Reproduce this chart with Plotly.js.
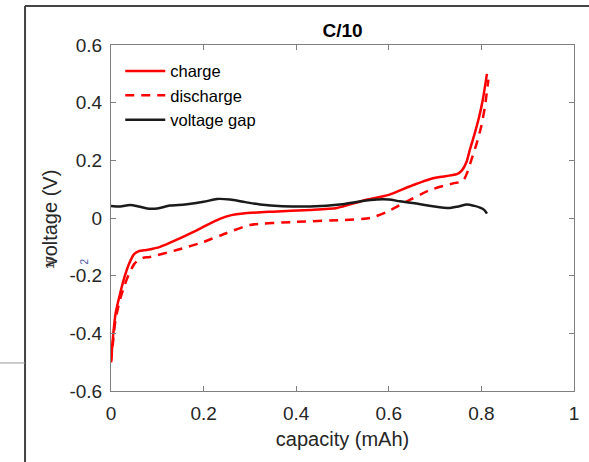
<!DOCTYPE html>
<html>
<head>
<meta charset="utf-8">
<script src="https://cdn.plot.ly/plotly-3.0.1.min.js"></script>
<style>html,body{margin:0;padding:0;background:#fff;}#chart{width:589px;height:462px;}</style>
</head>
<body>
<div id="chart"></div>
<script>
// Charge curve (solid red)
const chargeCap = [0, 0.005, 0.01, 0.02, 0.03, 0.04, 0.05, 0.06, 0.08, 0.106, 0.14, 0.177, 0.21, 0.235, 0.26, 0.285, 0.35, 0.43, 0.488, 0.544, 0.6, 0.646, 0.695, 0.747, 0.758, 0.768, 0.775, 0.785, 0.795, 0.803, 0.812];
const chargeV   = [-0.5, -0.4, -0.33, -0.26, -0.2, -0.155, -0.125, -0.115, -0.11, -0.1, -0.077, -0.049, -0.022, -0.003, 0.01, 0.016, 0.022, 0.028, 0.035, 0.06, 0.08, 0.11, 0.138, 0.152, 0.165, 0.195, 0.236, 0.29, 0.35, 0.41, 0.5];
// Discharge curve (dashed red)
const dischargeCap = [0, 0.005, 0.01, 0.02, 0.03, 0.04, 0.05, 0.06, 0.07, 0.084, 0.142, 0.2, 0.25, 0.3, 0.393, 0.5, 0.56, 0.596, 0.63, 0.689, 0.739, 0.76, 0.769, 0.778, 0.79, 0.8, 0.808, 0.815];
const dischargeV   = [-0.5, -0.42, -0.35, -0.28, -0.23, -0.19, -0.16, -0.145, -0.138, -0.135, -0.111, -0.083, -0.052, -0.024, -0.014, -0.007, 0.0, 0.021, 0.05, 0.097, 0.12, 0.128, 0.156, 0.2, 0.26, 0.32, 0.39, 0.48];
// Voltage gap (black)
const gapCap = [0, 0.02, 0.041, 0.06, 0.078, 0.1, 0.127, 0.16, 0.2, 0.229, 0.257, 0.29, 0.322, 0.37, 0.43, 0.5, 0.54, 0.574, 0.6, 0.624, 0.66, 0.695, 0.732, 0.75, 0.769, 0.785, 0.797, 0.806, 0.812];
const gapV   = [0.042, 0.04, 0.045, 0.04, 0.033, 0.033, 0.043, 0.047, 0.056, 0.066, 0.064, 0.055, 0.047, 0.041, 0.04, 0.048, 0.058, 0.064, 0.064, 0.058, 0.05, 0.041, 0.035, 0.04, 0.047, 0.042, 0.036, 0.028, 0.015];

const xTicks = [0, 0.2, 0.4, 0.6, 0.8, 1];
const xTickText = ['0', '0.2', '0.4', '0.6', '0.8', '1'];
const yTicks = [-0.6, -0.4, -0.2, 0, 0.2, 0.4, 0.6];
const yTickText = ['-0.6', '-0.4', '-0.2', '0', '0.2', '0.4', '0.6'];

const font = 'Liberation Sans, Arial, sans-serif';
const traces = [
  {x: chargeCap, y: chargeV, name: 'charge', mode: 'lines', line: {color: '#ff0000', width: 2.5, shape: 'spline', smoothing: 0.6}},
  {x: dischargeCap, y: dischargeV, name: 'discharge', mode: 'lines', line: {color: '#ff0000', width: 2.5, dash: '9px,7px', shape: 'spline', smoothing: 0.6}},
  {x: gapCap, y: gapV, name: 'voltage gap', mode: 'lines', line: {color: '#1a1a1a', width: 2.5, shape: 'spline', smoothing: 0.8}}
];

const axisCommon = {
  showgrid: false, zeroline: false, showline: true, linecolor: '#808080', linewidth: 1,
  mirror: 'allticks', ticks: 'inside', ticklen: 5, tickcolor: '#808080',
  tickfont: {family: font, size: 19, color: '#262626'}
};

const layout = {
  width: 589, height: 462,
  margin: {l: 111, r: 15, t: 45, b: 71},
  paper_bgcolor: '#ffffff', plot_bgcolor: '#ffffff',
  title: {text: '<b>C/10</b>', font: {family: font, size: 19, color: '#000'}, x: 0.5, xanchor: 'center', xref: 'paper', y: 0.935, yanchor: 'middle'},
  xaxis: Object.assign({}, axisCommon, {range: [0, 1], tickvals: xTicks, ticktext: xTickText, ticklabelstandoff: 5,
    title: {text: 'capacity (mAh)', font: {family: font, size: 20, color: '#262626'}, standoff: 9}}),
  yaxis: Object.assign({}, axisCommon, {range: [-0.6, 0.6], tickvals: yTicks, ticktext: yTickText, ticklabelstandoff: 4,
    title: {text: 'voltage (V)', font: {family: font, size: 20, color: '#262626'}, standoff: 6}}),
  showlegend: true,
  legend: {x: 0.02, y: 0.975, xanchor: 'left', yanchor: 'top', bgcolor: 'rgba(0,0,0,0)', borderwidth: 0,
    font: {family: font, size: 16.5, color: '#000'}, tracegroupgap: 0, itemwidth: 40},
  shapes: [
    {type: 'line', xref: 'paper', yref: 'paper', x0: -0.1857, x1: -0.1857, y0: 1.1127, y1: -0.21, line: {color: '#444', width: 2}},
    {type: 'line', xref: 'paper', yref: 'paper', x0: -0.1857, x1: 1.04, y0: 1.1127, y1: 1.1127, line: {color: '#444', width: 2}},
    {type: 'line', xref: 'paper', yref: 'paper', x0: -0.24, x1: -0.1857, y0: 0.081, y1: 0.081, line: {color: '#999', width: 1}}
  ],
  annotations: [
    {text: '10', xref: 'paper', yref: 'paper', x: (42 - 111) / 463, y: (391 - 263) / 346, showarrow: false, textangle: -90, font: {family: font, size: 11, color: '#333'}},
    {text: '2', xref: 'paper', yref: 'paper', x: (76 - 111) / 463, y: (391 - 262) / 346, showarrow: false, textangle: -90, font: {family: font, size: 10, color: '#5050a0'}}
  ]
};

Plotly.newPlot('chart', traces, layout, {displayModeBar: false, staticPlot: true});
</script>
</body>
</html>
